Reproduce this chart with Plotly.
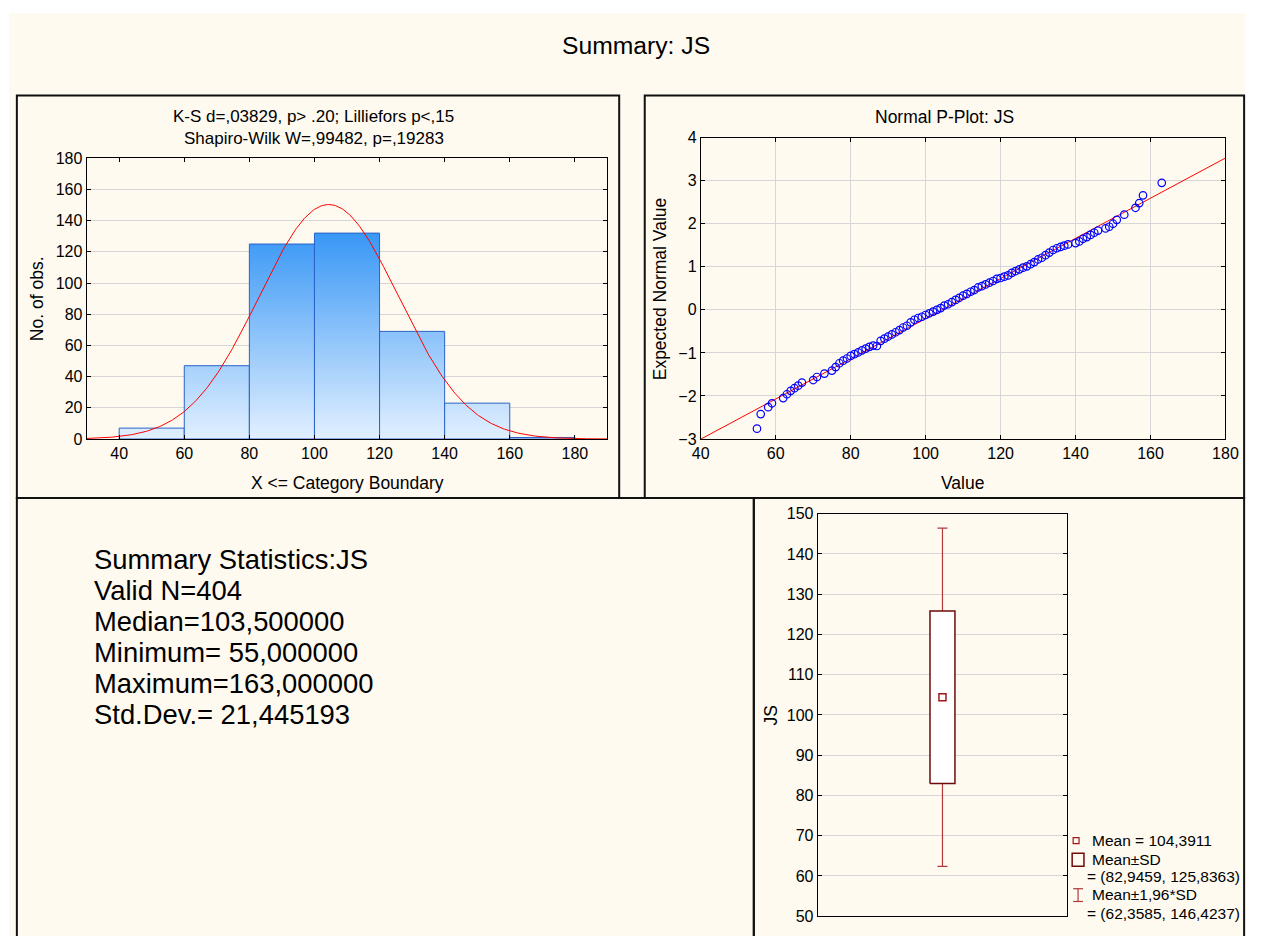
import numpy as np
import plotly.graph_objects as go

W, H = 1264, 936

# ---------------- data ----------------
var_name = "JS"
n_valid = 404
mean_val = 104.3911
sd_val = 21.445193
median_val = 103.5
min_val = 55.0
max_val = 163.0

bin_edges = [40, 60, 80, 100, 120, 140, 160, 180]
bin_counts = [7, 47, 125, 132, 69, 23, 1]

# normal probability plot points (value, expected normal value)
pp_values = [55, 56, 58, 59, 62, 63, 64, 65, 66, 67, 70, 71, 73, 75, 76, 77, 78, 79,
             80, 81, 82, 83, 84, 85, 86, 87, 88, 89, 90, 91, 92, 93, 94, 95, 96, 97,
             98, 99, 100, 101, 102, 103, 104, 105, 106, 107, 108, 109, 110, 111, 112,
             113, 114, 115, 116, 117, 118, 119, 120, 121, 122, 123, 124, 125, 126, 127,
             128, 129, 130, 131, 132, 133, 134, 135, 136, 137, 138, 140, 141, 142, 143,
             144, 145, 146, 148, 149, 150, 151, 153, 156, 157, 158, 163]
pp_expected = [-2.76, -2.42, -2.26, -2.17, -2.05, -1.96, -1.88, -1.82, -1.76, -1.69,
               -1.63, -1.56, -1.48, -1.41, -1.33, -1.24, -1.18, -1.13, -1.07, -1.03,
               -0.99, -0.94, -0.90, -0.86, -0.83, -0.84, -0.72, -0.67, -0.62, -0.57,
               -0.52, -0.47, -0.41, -0.37, -0.29, -0.23, -0.19, -0.16, -0.12, -0.08,
               -0.04, 0.00, 0.04, 0.10, 0.13, 0.18, 0.23, 0.28, 0.33, 0.37, 0.42,
               0.46, 0.52, 0.55, 0.59, 0.63, 0.67, 0.72, 0.74, 0.77, 0.80, 0.86,
               0.90, 0.94, 0.98, 1.01, 1.06, 1.11, 1.17, 1.21, 1.27, 1.33, 1.39,
               1.43, 1.46, 1.49, 1.52, 1.55, 1.59, 1.65, 1.69, 1.74, 1.79, 1.84,
               1.89, 1.93, 2.00, 2.09, 2.21, 2.37, 2.48, 2.66, 2.95]

box_low_sd = 82.9459
box_high_sd = 125.8363
whisk_low = 62.3585
whisk_high = 146.4237

main_title = "Summary: JS"
hist_title_lines = ["K-S d=,03829, p> .20; Lilliefors p<,15",
                    "Shapiro-Wilk W=,99482, p=,19283"]
stats_lines = ["Summary Statistics:JS", "Valid N=404", "Median=103,500000",
               "Minimum= 55,000000", "Maximum=163,000000", "Std.Dev.= 21,445193"]
legend_lines = ["Mean = 104,3911", "Mean\u00b1SD", "= (82,9459, 125,8363)",
                "Mean\u00b11,96*SD", "= (62,3585, 146,4237)"]

# ---------------- style ----------------
FONT = "Liberation Sans, Arial, sans-serif"
CREAM = "#fffaf0"
GRID = "#d6d6d6"
BAR_EDGE = "#2a62c9"
MAROON = "#6e0a0a"
WHISK = "#b03a3a"


def px(x):
    return x / W


def py(y):
    return 1 - y / H


fig = go.Figure()

# ---------------- histogram ----------------
for i, c in enumerate(bin_counts):
    l, r = bin_edges[i], bin_edges[i + 1]
    fig.add_trace(go.Scatter(
        x=[l, l, r, r, l], y=[0, c, c, 0, 0], mode="lines", fill="toself",
        fillgradient=dict(type="vertical",
                          colorscale=[[0, "#e6f2ff"], [1, "#3a98f6"]],
                          start=0, stop=max(bin_counts)),
        line=dict(color=BAR_EDGE, width=1), xaxis="x", yaxis="y",
        showlegend=False, hoverinfo="skip"))

binw = bin_edges[1] - bin_edges[0]
xs = np.linspace(30, 190, 401)
ys = n_valid * binw * np.exp(-0.5 * ((xs - mean_val) / sd_val) ** 2) / (sd_val * np.sqrt(2 * np.pi))
fig.add_trace(go.Scatter(x=xs, y=ys, mode="lines", line=dict(color="#ff0000", width=1),
                         xaxis="x", yaxis="y", showlegend=False))

# ---------------- normal probability plot ----------------
lx = np.array([40, 180])
fig.add_trace(go.Scatter(x=lx, y=(lx - mean_val) / sd_val, mode="lines",
                         line=dict(color="#ff0000", width=1),
                         xaxis="x2", yaxis="y2", showlegend=False))
fig.add_trace(go.Scatter(x=pp_values, y=pp_expected, mode="markers",
                         marker=dict(symbol="circle-open", size=7.5, color="#0000ff",
                                     line=dict(width=1.2, color="#0000ff")),
                         xaxis="x2", yaxis="y2", showlegend=False))

# ---------------- box plot (mean, ±SD, ±1.96 SD) ----------------
fig.add_trace(go.Scatter(
    x=[0], y=[mean_val], mode="markers", marker=dict(size=1, color="rgba(0,0,0,0)"),
    error_y=dict(type="data", symmetric=False, array=[whisk_high - mean_val],
                 arrayminus=[mean_val - whisk_low], color=WHISK, thickness=1.2, width=5),
    xaxis="x3", yaxis="y3", showlegend=False))
hw = 0.05
fig.add_trace(go.Scatter(
    x=[-hw, -hw, hw, hw, -hw], y=[box_low_sd, box_high_sd, box_high_sd, box_low_sd, box_low_sd],
    mode="lines", fill="toself", fillcolor="white", line=dict(color=MAROON, width=1.5),
    xaxis="x3", yaxis="y3", showlegend=False))
fig.add_trace(go.Scatter(
    x=[0], y=[mean_val], mode="markers",
    marker=dict(symbol="square-open", size=7, color="#a01818", line=dict(width=1.5, color="#a01818")),
    xaxis="x3", yaxis="y3", showlegend=False))

# ---------------- axes ----------------
tickfont = dict(family=FONT, size=16, color="black")
axis_common = dict(showline=True, linecolor="black", linewidth=1, mirror="ticks",
                   ticks="inside", ticklen=4, tickcolor="black", zeroline=False,
                   tickfont=tickfont)

fig.update_layout(
    xaxis=dict(domain=[px(79), px(609)], range=[30, 190], tickvals=bin_edges,
               showgrid=False, anchor="y", **axis_common),
    yaxis=dict(domain=[py(439), py(153)], range=[0, 180], dtick=20,
               showgrid=True, gridcolor=GRID, anchor="x", **axis_common),
    xaxis2=dict(domain=[px(704), px(1238)], range=[40, 180], dtick=20,
                showgrid=True, gridcolor=GRID, anchor="y2", **axis_common),
    yaxis2=dict(domain=[py(439), py(132)], range=[-3, 4], dtick=1,
                showgrid=True, gridcolor=GRID, anchor="x2", **axis_common),
    xaxis3=dict(domain=[px(823), px(1077)], range=[-0.5, 0.5], showticklabels=False,
                showgrid=False, anchor="y3", showline=True, linecolor="black",
                mirror=True, ticks="", zeroline=False),
    yaxis3=dict(domain=[py(925), py(515)], range=[50, 150], dtick=10,
                showgrid=True, gridcolor=GRID, anchor="x3", **axis_common),
)

# ---------------- panels & decorations ----------------
shapes = [
    dict(type="rect", xref="paper", yref="paper", x0=0, x1=px(1258), y0=py(980), y1=py(5),
         fillcolor=CREAM, line=dict(width=0), layer="below"),
]
for (x0, y0, x1, y1) in [(8, 89, 621, 499), (647, 89, 1257, 499),
                         (8, 499, 758, 980), (758, 499, 1257, 980)]:
    shapes.append(dict(type="rect", xref="paper", yref="paper", x0=px(x0), x1=px(x1),
                       y0=py(y1), y1=py(y0), line=dict(color="#111111", width=2),
                       layer="below"))
# legend symbols in box-plot panel
shapes.append(dict(type="rect", xref="paper", yref="paper", x0=px(1083), x1=px(1089),
                   y0=py(851), y1=py(845), line=dict(color="#a01818", width=1.2)))
shapes.append(dict(type="rect", xref="paper", yref="paper", x0=px(1082), x1=px(1094),
                   y0=py(874), y1=py(861), line=dict(color=MAROON, width=1.5)))
for (a, b, c, d) in [(1088, 897, 1088, 910), (1083, 897, 1093, 897), (1083, 910, 1093, 910)]:
    shapes.append(dict(type="line", xref="paper", yref="paper", x0=px(a), x1=px(c),
                       y0=py(b), y1=py(d), line=dict(color=WHISK, width=1.2)))

TF = dict(family=FONT, size=17, color="black")
AF = dict(family=FONT, size=17.5, color="black")
annotations = [
    dict(text=main_title, x=px(638), y=py(38), font=dict(family=FONT, size=24.7, color="black"),
         xanchor="center", yanchor="middle"),
    dict(text=hist_title_lines[0], x=px(310), y=py(111), font=TF, xanchor="center", yanchor="middle"),
    dict(text=hist_title_lines[1], x=px(310), y=py(133), font=TF, xanchor="center", yanchor="middle"),
    dict(text="X <= Category Boundary", x=px(345), y=py(484), font=AF,
         xanchor="center", yanchor="middle"),
    dict(text="No. of obs.", x=px(28), y=py(296), textangle=-90, font=AF,
         xanchor="center", yanchor="middle"),
    dict(text="Normal P-Plot: JS", x=px(952), y=py(111), font=AF, xanchor="center", yanchor="middle"),
    dict(text="Value", x=px(970), y=py(484), font=AF, xanchor="center", yanchor="middle"),
    dict(text="Expected Normal Value", x=px(662), y=py(286), textangle=-90, font=AF,
         xanchor="center", yanchor="middle"),
    dict(text=var_name, x=px(775), y=py(721), textangle=-90, font=AF,
         xanchor="center", yanchor="middle"),
]
for i, t in enumerate(stats_lines):
    annotations.append(dict(text=t, x=px(84), y=py(562 + 31.6 * i), xanchor="left", yanchor="middle",
                            font=dict(family=FONT, size=27.4, color="black")))
leg_pos = [(1100, 848), (1100, 867), (1095, 885), (1100, 903), (1095, 922)]
for t, (lx_, ly_) in zip(legend_lines, leg_pos):
    annotations.append(dict(text=t, x=px(lx_), y=py(ly_), xanchor="left", yanchor="middle",
                            font=dict(family=FONT, size=15.5, color="black")))
for a in annotations:
    a.update(xref="paper", yref="paper", showarrow=False)

fig.update_layout(
    width=W, height=H, margin=dict(l=0, r=0, t=0, b=0),
    paper_bgcolor="white", plot_bgcolor="white",
    shapes=shapes, annotations=annotations, showlegend=False,
    hovermode=False,
    font=dict(family=FONT, color="black"),
)

fig.write_html(
    "out.html",
    config={"displayModeBar": False, "staticPlot": True},
    post_script="document.body.style.margin='0';document.body.style.overflow='hidden';",
)
